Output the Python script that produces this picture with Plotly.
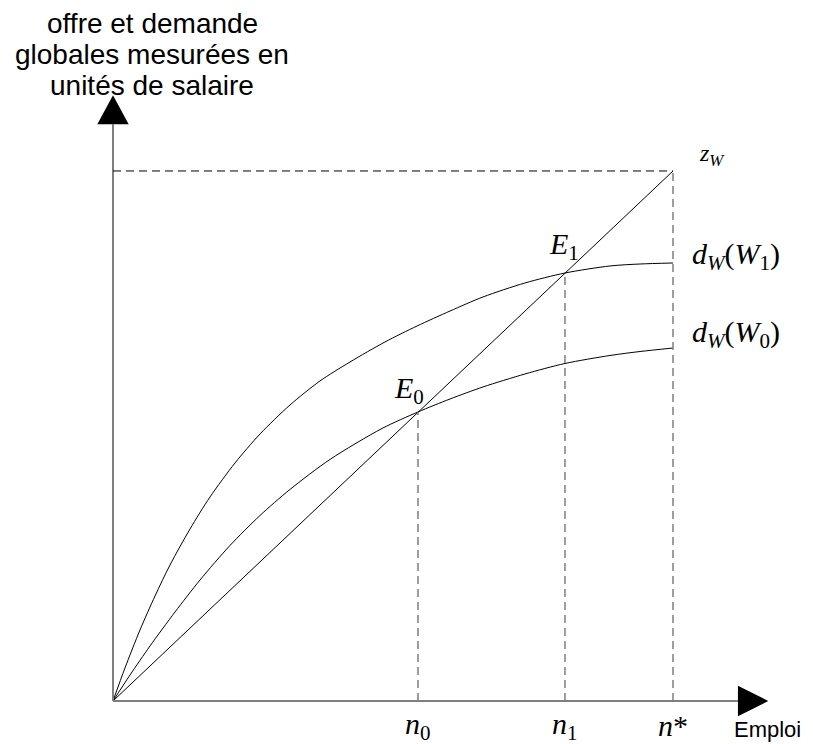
import plotly.graph_objects as go

# ---- data (units: n* = 10, z_W(n*) = 10) ----
n0, n1, n_star = 5.446, 8.071, 10.0
z_line_x = [0.0, 10.0]
z_line_y = [0.0, 10.0]

dW1_x = [0, 0.214, 0.482, 0.750, 1.018, 1.375, 1.732, 2.179, 2.625, 3.161, 3.696,
         4.232, 4.857, 5.429, 6.018, 6.607, 7.357, 8.071, 8.875, 9.411, 10.0]
dW1_y = [0, 0.623, 1.340, 1.981, 2.566, 3.245, 3.849, 4.491, 5.038, 5.585, 6.038,
         6.396, 6.774, 7.075, 7.358, 7.623, 7.887, 8.075, 8.208, 8.245, 8.264]

dW0_x = [0, 0.304, 0.661, 1.107, 1.554, 2.089, 2.625, 3.161, 3.875, 4.804, 5.446,
         6.018, 6.607, 7.357, 8.071, 8.875, 9.411, 10.0]
dW0_y = [0, 0.491, 1.038, 1.679, 2.283, 2.934, 3.500, 3.992, 4.558, 5.142, 5.453,
         5.698, 5.925, 6.170, 6.368, 6.519, 6.594, 6.660]

E0 = (n0, 5.446)
E1 = (n1, 8.071)
x_axis_end, y_axis_end = 11.70, 11.43

SERIF = "Liberation Serif, Times New Roman, serif"
SANS = "Liberation Sans, Arial, sans-serif"
GRAY = "#7f7f7f"

fig = go.Figure()
for xs, ys in [(z_line_x, z_line_y), (dW1_x, dW1_y), (dW0_x, dW0_y)]:
    fig.add_trace(go.Scatter(x=xs, y=ys, mode="lines",
                             line=dict(color="black", width=1, shape="spline", smoothing=0.8),
                             hoverinfo="skip"))

shapes = []
# axes
shapes.append(dict(type="line", x0=0, y0=0, x1=x_axis_end - 0.54, y1=0, line=dict(color=GRAY, width=2)))
shapes.append(dict(type="line", x0=0, y0=0, x1=0, y1=y_axis_end - 0.55, line=dict(color=GRAY, width=2)))
# arrows
ax = x_axis_end
shapes.append(dict(type="path", path=f"M {ax-0.54},-0.29 L {ax},0 L {ax-0.54},0.29 Z",
                   fillcolor="black", line=dict(width=0)))
ay = y_axis_end
shapes.append(dict(type="path", path=f"M -0.28,{ay-0.55} L 0,{ay} L 0.28,{ay-0.55} Z",
                   fillcolor="black", line=dict(width=0)))
# dashed guides
shapes.append(dict(type="line", x0=0, y0=z_line_y[1], x1=n_star, y1=z_line_y[1],
                   line=dict(color="black", width=1, dash="8px,5px")))
shapes.append(dict(type="line", x0=n_star, y0=0, x1=n_star, y1=z_line_y[1],
                   line=dict(color=GRAY, width=1.5, dash="8px,5px")))
shapes.append(dict(type="line", x0=n0, y0=0, x1=n0, y1=E0[1],
                   line=dict(color=GRAY, width=1.5, dash="8px,5px")))
shapes.append(dict(type="line", x0=n1, y0=0, x1=n1, y1=E1[1],
                   line=dict(color=GRAY, width=1.5, dash="8px,5px")))

ann = []
def A(x, y, text, size, family=SERIF, xanchor="left", yanchor="middle"):
    ann.append(dict(x=x, y=y, text=text, showarrow=False,
                    font=dict(size=size, family=family, color="black"),
                    xanchor=xanchor, yanchor=yanchor))

title_lines = ["offre et demande", "globales mesurées en", "unités de salaire"]
for i, t in enumerate(title_lines):
    A(0.70, 12.79 - i * 0.59, t, 28, SANS, xanchor="center")

A(10.43, 10.30, "<i>z</i><sub><i>W</i></sub>", 24)
A(10.30, 8.40, "<i>d</i><sub><i>W</i></sub>(<i>W</i><sub>1</sub>)", 30)
A(10.30, 6.93, "<i>d</i><sub><i>W</i></sub>(<i>W</i><sub>0</sub>)", 30)
A(E1[0] - 0.33, E1[1] + 0.51, "<i>E</i><sub>1</sub>", 30)
A(E0[0] - 0.46, E0[1] + 0.42, "<i>E</i><sub>0</sub>", 30)
A(n0, -0.47, "<i>n</i><sub>0</sub>", 30, xanchor="center")
A(n1, -0.47, "<i>n</i><sub>1</sub>", 30, xanchor="center")
A(n_star, -0.47, "<i>n</i>*", 30, xanchor="center")
A(11.05, -0.53, "Emploi", 22, SANS)

# page body has an 8px margin: the figure spans page px 8..813 and 8..744
fig.update_layout(
    width=805, height=736, margin=dict(l=0, r=0, t=0, b=0),
    paper_bgcolor="white", plot_bgcolor="white", showlegend=False,
    xaxis=dict(range=[-1.875, 12.5], visible=False, fixedrange=True),
    yaxis=dict(range=[-0.8113, 13.075], visible=False, fixedrange=True),
    shapes=shapes, annotations=ann,
)
fig.write_html("out.html")
